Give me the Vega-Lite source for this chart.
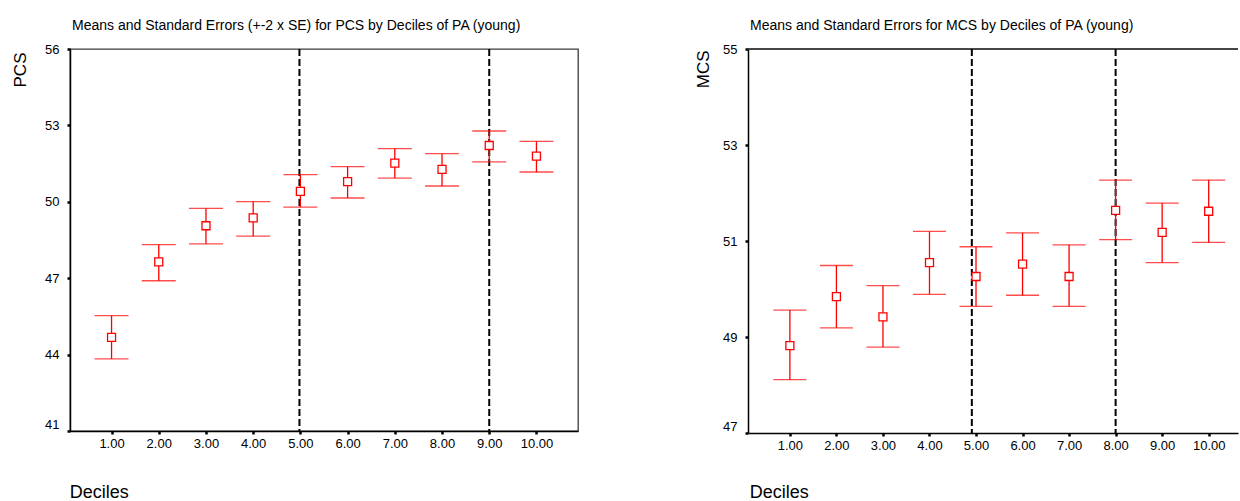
{
  "$schema": "https://vega.github.io/schema/vega-lite/v6.json",
  "autosize": {"type": "pad"},
  "padding": {"left": 10, "top": 18, "right": 0, "bottom": 0},
  "background": "white",
  "bounds": "flush",
  "spacing": 170,
  "config": {
    "font": "Liberation Sans",
    "view": {"stroke": "#3a3a3a", "strokeWidth": 1.3},
    "axis": {
      "grid": false,
      "domainColor": "black",
      "domainWidth": 1.5,
      "tickColor": "black",
      "tickWidth": 2.5,
      "tickSize": 3,
      "labelFont": "Liberation Sans",
      "labelFontSize": 13,
      "labelColor": "black",
      "titleFont": "Liberation Sans",
      "titleFontWeight": "normal",
      "titleColor": "black",
      "titleFontSize": 17
    },
    "title": {
      "font": "Liberation Sans",
      "fontSize": 14,
      "fontWeight": "normal",
      "color": "black",
      "anchor": "start",
      "frame": "group"
    }
  },
  "datasets": {
    "pcs": [
      {"decile": 1, "mean": 44.68, "lower": 43.83, "upper": 45.53},
      {"decile": 2, "mean": 47.64, "lower": 46.9, "upper": 48.32},
      {"decile": 3, "mean": 49.06, "lower": 48.35, "upper": 49.74},
      {"decile": 4, "mean": 49.37, "lower": 48.65, "upper": 50.01},
      {"decile": 5, "mean": 50.41, "lower": 49.79, "upper": 51.07},
      {"decile": 6, "mean": 50.79, "lower": 50.15, "upper": 51.38},
      {"decile": 7, "mean": 51.52, "lower": 50.93, "upper": 52.09},
      {"decile": 8, "mean": 51.27, "lower": 50.62, "upper": 51.89},
      {"decile": 9, "mean": 52.21, "lower": 51.57, "upper": 52.78},
      {"decile": 10, "mean": 51.79, "lower": 51.17, "upper": 52.37}
    ],
    "mcs": [
      {"decile": 1, "mean": 48.82, "lower": 48.11, "upper": 49.56},
      {"decile": 2, "mean": 49.84, "lower": 49.19, "upper": 50.49},
      {"decile": 3, "mean": 49.42, "lower": 48.79, "upper": 50.07},
      {"decile": 4, "mean": 50.55, "lower": 49.89, "upper": 51.2},
      {"decile": 5, "mean": 50.26, "lower": 49.64, "upper": 50.88},
      {"decile": 6, "mean": 50.52, "lower": 49.87, "upper": 51.17},
      {"decile": 7, "mean": 50.26, "lower": 49.64, "upper": 50.92},
      {"decile": 8, "mean": 51.64, "lower": 51.03, "upper": 52.27},
      {"decile": 9, "mean": 51.18, "lower": 50.55, "upper": 51.79},
      {"decile": 10, "mean": 51.62, "lower": 50.97, "upper": 52.27}
    ],
    "pcsCuts": [{"cut": 4.98}, {"cut": 9.0}],
    "mcsCuts": [{"cut": 4.91}, {"cut": 8.0}]
  },
  "hconcat": [
    {
      "width": 508,
      "height": 382,
      "title": {
        "text": "Means and Standard Errors (+-2 x SE) for PCS by Deciles of PA (young)",
        "dx": 2,
        "offset": 10
      },
      "layer": [
        {
          "data": {"name": "pcsCuts"},
          "mark": {"type": "rule", "color": "black", "strokeWidth": 2, "strokeDash": [7, 3]},
          "encoding": {
            "x": {
              "field": "cut",
              "type": "quantitative",
              "scale": {"domain": [0.12, 10.88], "nice": false, "zero": false},
              "axis": {
                "values": [1, 2, 3, 4, 5, 6, 7, 8, 9, 10],
                "format": ".2f",
                "title": "Deciles",
                "titleFontSize": 18,
                "titleAlign": "left",
                "titleBaseline": "alphabetic",
                "titleX": -0.7,
                "titleY": 66,
                "labelPadding": 3
              }
            }
          }
        },
        {
          "data": {"name": "pcs"},
          "mark": {"type": "rule", "color": "#ff0000", "strokeWidth": 1.3},
          "encoding": {
            "x": {"field": "decile", "type": "quantitative", "title": "Deciles"},
            "y": {
              "field": "lower",
              "type": "quantitative",
              "scale": {"domain": [41, 56], "nice": false, "zero": false},
              "axis": {
                "values": [41, 44, 47, 50, 53, 56],
                "title": "PCS",
                "titleAngle": 270,
                "titleAlign": "right",
                "titleBaseline": "middle",
                "titleX": -49.5,
                "titleY": 3,
                "labelPadding": 8,
                "labelBaseline": {"condition": {"test": "datum.value == 41", "value": "bottom"}, "value": "middle"}
              }
            },
            "y2": {"field": "upper"}
          }
        },
        {
          "data": {"name": "pcs"},
          "mark": {"type": "tick", "orient": "horizontal", "color": "#ff0000", "size": 34, "thickness": 1.3},
          "encoding": {
            "x": {"field": "decile", "type": "quantitative", "title": "Deciles"},
            "y": {"field": "lower", "type": "quantitative", "title": "PCS"}
          }
        },
        {
          "data": {"name": "pcs"},
          "mark": {"type": "tick", "orient": "horizontal", "color": "#ff0000", "size": 34, "thickness": 1.3},
          "encoding": {
            "x": {"field": "decile", "type": "quantitative", "title": "Deciles"},
            "y": {"field": "upper", "type": "quantitative", "title": "PCS"}
          }
        },
        {
          "data": {"name": "pcs"},
          "mark": {"type": "point", "shape": "square", "size": 64, "filled": true, "fill": "white", "stroke": "#ff0000", "strokeWidth": 1.3, "opacity": 1},
          "encoding": {
            "x": {"field": "decile", "type": "quantitative", "title": "Deciles"},
            "y": {"field": "mean", "type": "quantitative", "title": "PCS"}
          }
        }
      ]
    },
    {
      "width": 490,
      "height": 384,
      "view": {"stroke": null},
      "title": {
        "text": "Means and Standard Errors for MCS by Deciles of PA (young)",
        "dx": 2,
        "offset": 10
      },
      "layer": [
        {
          "data": {"name": "mcsCuts"},
          "mark": {"type": "rule", "color": "#3a3a3a", "strokeWidth": 1.3},
          "encoding": {
            "y": {"datum": 55, "type": "quantitative", "scale": {"domain": [47, 55], "nice": false, "zero": false}, "title": "MCS"}
          }
        },
        {
          "data": {"name": "mcsCuts"},
          "mark": {"type": "rule", "color": "black", "strokeWidth": 2, "strokeDash": [7, 3]},
          "encoding": {
            "x": {
              "field": "cut",
              "type": "quantitative",
              "scale": {"domain": [0.1, 10.63], "nice": false, "zero": false},
              "axis": {
                "values": [1, 2, 3, 4, 5, 6, 7, 8, 9, 10],
                "format": ".2f",
                "title": "Deciles",
                "titleFontSize": 18,
                "titleAlign": "left",
                "titleBaseline": "alphabetic",
                "titleX": 1.3,
                "titleY": 64.5,
                "labelPadding": 3
              }
            }
          }
        },
        {
          "data": {"name": "mcs"},
          "mark": {"type": "rule", "color": "#ff0000", "strokeWidth": 1.3},
          "encoding": {
            "x": {"field": "decile", "type": "quantitative", "title": "Deciles"},
            "y": {
              "field": "lower",
              "type": "quantitative",
              "scale": {"domain": [47, 55], "nice": false, "zero": false},
              "axis": {
                "values": [47, 49, 51, 53, 55],
                "title": "MCS",
                "titleAngle": 270,
                "titleAlign": "right",
                "titleBaseline": "middle",
                "titleX": -45,
                "titleY": 1,
                "labelPadding": 8,
                "labelBaseline": {"condition": {"test": "datum.value == 47", "value": "bottom"}, "value": "middle"}
              }
            },
            "y2": {"field": "upper"}
          }
        },
        {
          "data": {"name": "mcs"},
          "mark": {"type": "tick", "orient": "horizontal", "color": "#ff0000", "size": 33, "thickness": 1.3},
          "encoding": {
            "x": {"field": "decile", "type": "quantitative", "title": "Deciles"},
            "y": {"field": "lower", "type": "quantitative", "title": "MCS"}
          }
        },
        {
          "data": {"name": "mcs"},
          "mark": {"type": "tick", "orient": "horizontal", "color": "#ff0000", "size": 33, "thickness": 1.3},
          "encoding": {
            "x": {"field": "decile", "type": "quantitative", "title": "Deciles"},
            "y": {"field": "upper", "type": "quantitative", "title": "MCS"}
          }
        },
        {
          "data": {"name": "mcs"},
          "mark": {"type": "point", "shape": "square", "size": 64, "filled": true, "fill": "white", "stroke": "#ff0000", "strokeWidth": 1.3, "opacity": 1},
          "encoding": {
            "x": {"field": "decile", "type": "quantitative", "title": "Deciles"},
            "y": {"field": "mean", "type": "quantitative", "title": "MCS"}
          }
        }
      ]
    }
  ]
}
